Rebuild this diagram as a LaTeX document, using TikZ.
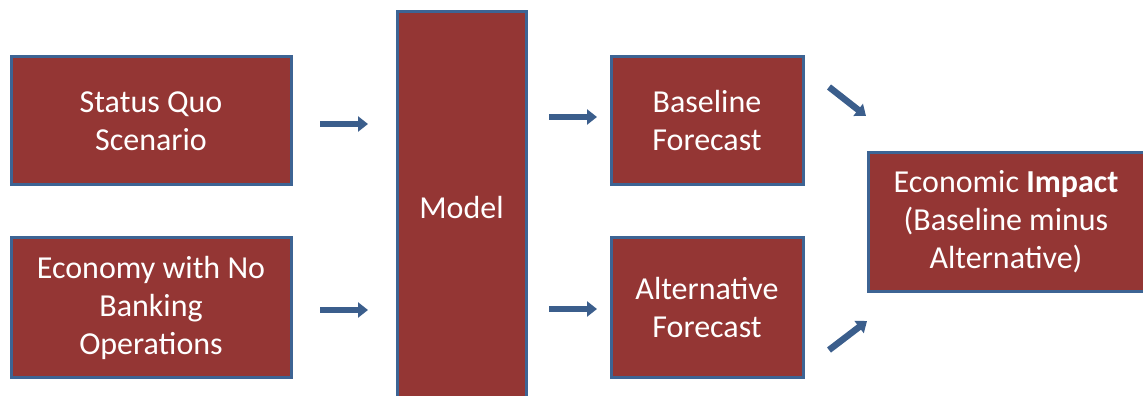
\documentclass[tikz,border=0pt]{standalone}
\usepackage{fontspec}
\setmainfont{Carlito}
\usetikzlibrary{arrows.meta}
\definecolor{boxred}{HTML}{943634}
\definecolor{boxblue}{HTML}{3D6494}
\definecolor{arrblue}{HTML}{3B5E8C}
\begin{document}
\begin{tikzpicture}[x=1pt,y=-1pt,
  box/.style={draw=boxblue,fill=boxred,line width=3pt},
  lbl/.style={text=white,align=center,font=\fontsize{32}{38}\selectfont,inner sep=0pt},
  flowarrow/.style={draw=arrblue,line width=6.5pt,-{Triangle[width=15pt,length=10pt]}}]
\useasboundingbox (0,0) rectangle (1143,396);
\draw[box] (11,57) rectangle (291,184);
\node[lbl] (sq) at (151,121) {Status Quo\\Scenario};
\draw[box] (11,237) rectangle (291,377);
\node[lbl] (econ) at (151,308) {Economy with No\\Banking\\Operations};
\draw[box] (397,12) rectangle (526,410);
\node[lbl] (model) at (461.5,207) {Model};
\draw[box] (611,57) rectangle (803,184);
\node[lbl] (base) at (707,121) {Baseline\\Forecast};
\draw[box] (611,237) rectangle (803,377);
\node[lbl] (alt) at (707,308) {Alternative\\Forecast};
\draw[box] (868,152) rectangle (1160,291);
\node[lbl] (imp) at (1006,222) {Economic \textbf{Impact}\\(Baseline minus\\Alternative)};
\coordinate (a1s) at (320,124); \coordinate (a1e) at (368,124);
\coordinate (a2s) at (320,310); \coordinate (a2e) at (368,310);
\coordinate (a3s) at (549,117); \coordinate (a3e) at (597,117);
\coordinate (a4s) at (549,309); \coordinate (a4e) at (597,309);
\coordinate (a5s) at (829,87); \coordinate (a5e) at (866,116);
\coordinate (a6s) at (829,350); \coordinate (a6e) at (867,321);
\draw[flowarrow] (a1s) -- (a1e);
\draw[flowarrow] (a2s) -- (a2e);
\draw[flowarrow] (a3s) -- (a3e);
\draw[flowarrow] (a4s) -- (a4e);
\draw[flowarrow] (a5s) -- (a5e);
\draw[flowarrow] (a6s) -- (a6e);
\end{tikzpicture}
\end{document}
